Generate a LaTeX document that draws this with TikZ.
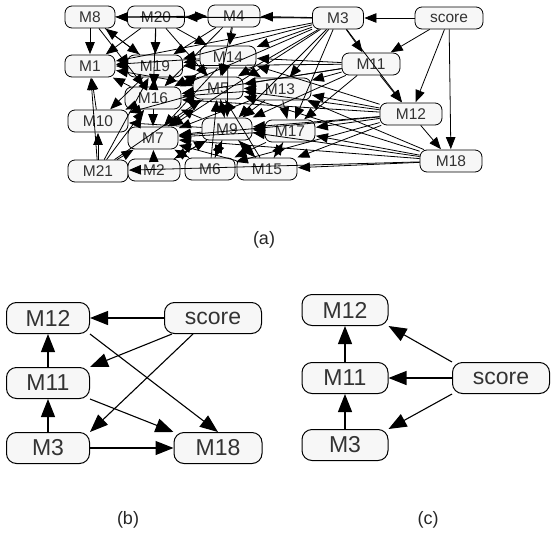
\documentclass[tikz,border=0pt]{standalone}
\usepackage{fontspec}
\setmainfont{Liberation Sans}
\usetikzlibrary{arrows.meta}
\begin{document}
\begin{tikzpicture}[x=1pt,y=-1pt,
  na/.style={draw=black,fill=black!3,rounded corners=7pt,minimum height=22pt,inner sep=1pt,font=\fontsize{15.5}{15.5}\selectfont,text=black!80,line width=0.8pt},
  nb/.style={draw=black,fill=black!3,rounded corners=10pt,minimum height=31pt,inner sep=1pt,font=\fontsize{23}{23}\selectfont,text=black!80,line width=1pt},
  ea/.style={-{Triangle[length=12pt,width=9.5pt]},line width=0.8pt,shorten >=0.5pt},
  eb/.style={-{Triangle[length=18pt,width=14pt]},line width=1.1pt},
  captext/.style={font=\fontsize{18}{18}\selectfont,text=black!85}]
\useasboundingbox (0,0) rectangle (551,538);
% ---------- (a) ----------
\node[na,minimum width=50pt] (a8) at (90,17) {M8};
\node[na,minimum width=57pt] (a20) at (156,17) {M20};
\node[na,minimum width=52pt] (a4) at (234,16) {M4};
\node[na,minimum width=51pt] (a3) at (338,18) {M3};
\node[na,minimum width=68pt] (as) at (449,18) {score};
\node[na,minimum width=58pt] (a11) at (371,64) {M11};
\node[na,minimum width=56pt] (a14) at (228,57) {M14};
\node[na,minimum width=50pt] (a1) at (90,66) {M1};
\node[na,minimum width=55pt] (a19) at (155,66) {M19};
\node[na,minimum width=50pt] (a5) at (218,88) {M5};
\node[na,minimum width=62pt] (a13) at (280,89) {M13};
\node[na,minimum width=56pt] (a16) at (153,98) {M16};
\node[na,minimum width=62pt] (a12) at (411,114) {M12};
\node[na,minimum width=60pt] (a10) at (98,121) {M10};
\node[na,minimum width=50pt] (a7) at (153,138) {M7};
\node[na,minimum width=50pt] (a9) at (227,129) {M9};
\node[na,minimum width=50pt] (a17) at (290,131) {M17};
\node[na,minimum width=62pt] (a18) at (451,161) {M18};
\node[na,minimum width=60pt] (a21) at (98,171) {M21};
\node[na,minimum width=52pt] (a2) at (154,170) {M2};
\node[na,minimum width=50pt] (a6) at (210,169) {M6};
\node[na,minimum width=60pt] (a15) at (267,169) {M15};
% edges of (a)
\foreach \s/\t in {as/a3,as/a11,as/a12,as/a18,
  a3/a11,a3/a8,a3/a4,a3/a14,a3/a19,a3/a1,a3/a5,a3/a13,a3/a16,a3/a9,a3/a17,a3/a7,a3/a12,a3/a20,
  a11/a12,a11/a13,a11/a5,a11/a14,a11/a17,a11/a9,a11/a16,a11/a19,
  a12/a18,a12/a13,a12/a17,a12/a9,a12/a5,a12/a14,a12/a16,a12/a7,a12/a15,a12/a6,
  a18/a15,a18/a21,a18/a17,a18/a9,a18/a13,a18/a7,a18/a5,
  a4/a14,a4/a5,a4/a19,a4/a16,
  a8/a4,a8/a1,a8/a19,a8/a16,
  a20/a8,a20/a19,a20/a1,a20/a14,a20/a16,a20/a5,
  a14/a19,a14/a5,a14/a9,a14/a16,a14/a13,a14/a1,a14/a7,
  a19/a1,a19/a16,a19/a8,a19/a10,
  a5/a16,a5/a9,a5/a7,a5/a19,a5/a1,a5/a10,
  a13/a5,a13/a17,a13/a9,a13/a7,a13/a16,
  a16/a10,a16/a7,a16/a1,a16/a19,
  a9/a7,a9/a16,a9/a2,a9/a6,a9/a15,a9/a5,a9/a10,
  a17/a9,a17/a15,a17/a6,a17/a7,
  a21/a10,a21/a1,a21/a7,a21/a16,a21/a19,a21/a5,
  a2/a7,a2/a9,a6/a9,a6/a7,a6/a5,a15/a9,a15/a7,a15/a17,a15/a5,a10/a1}
  \draw[ea] (\s) -- (\t);
\node[captext] (ca) at (264,240) {(a)};
% ---------- (b) ----------
\node[nb,minimum width=83pt] (b12) at (48,318) {M12};
\node[nb,minimum width=97pt] (bs) at (213,318) {score};
\node[nb,minimum width=83pt] (b11) at (48,383) {M11};
\node[nb,minimum width=83pt] (b3) at (48,448) {M3};
\node[nb,minimum width=88pt] (b18) at (218,448) {M18};
\draw[eb] (bs) -- (b12);
\coordinate (bs1) at ([xshift=8pt]bs.south west);
\coordinate (bs2) at ([xshift=-20pt]bs.south);
\draw[eb] (bs1) -- (b11.north east);
\draw[eb] (bs2) -- (b3.north east);
\draw[eb] (b12.south east) -- (b18.north);
\draw[eb] (b11) -- (b12);
\draw[eb] (b11.south east) -- (b18.north west);
\draw[eb] (b3) -- (b11);
\draw[eb] (b3) -- (b18);
\node[captext] (cb) at (128,520) {(b)};
% ---------- (c) ----------
\node[nb,minimum width=86pt] (c12) at (345,310) {M12};
\node[nb,minimum width=86pt] (c11) at (345,378) {M11};
\node[nb,minimum width=97pt] (cs) at (501,378) {score};
\node[nb,minimum width=86pt] (c3) at (345,445) {M3};
\draw[eb] (cs.north west) -- (c12.south east);
\draw[eb] (cs) -- (c11);
\draw[eb] (cs.south west) -- (c3.north east);
\draw[eb] (c11) -- (c12);
\draw[eb] (c3) -- (c11);
\node[captext] (cc) at (428,520) {(c)};
\end{tikzpicture}
\end{document}
